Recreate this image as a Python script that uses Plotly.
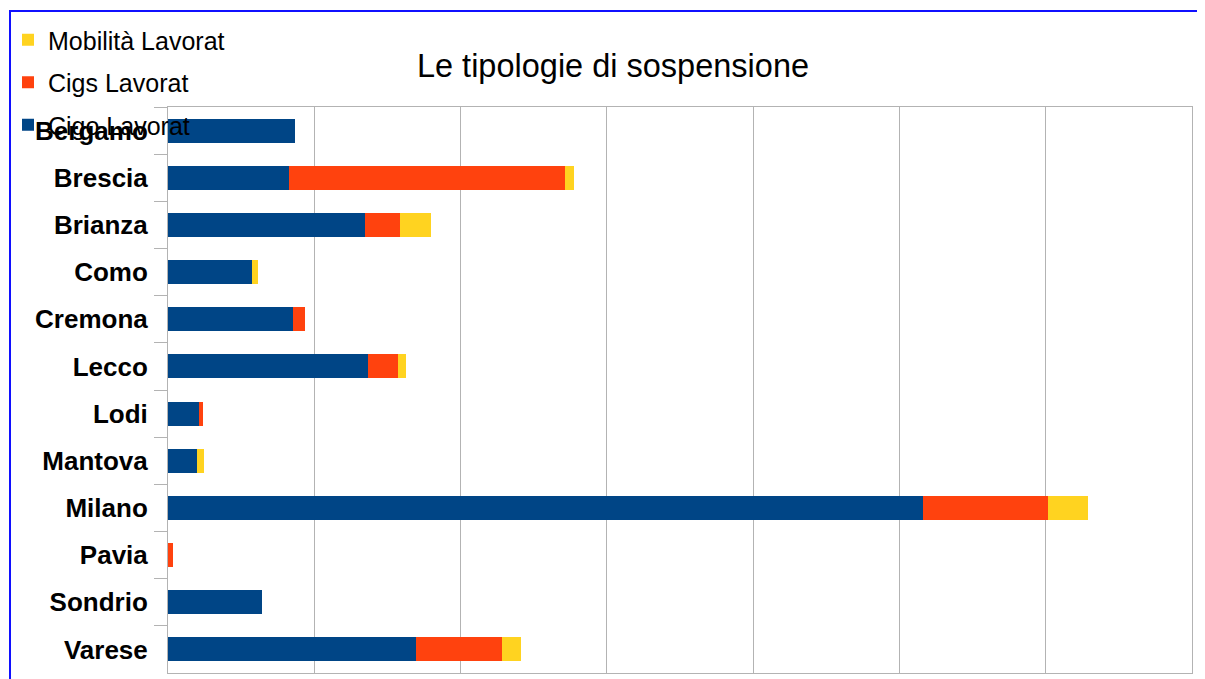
import plotly.graph_objects as go

# dati
province = ['Bergamo', 'Brescia', 'Brianza', 'Como', 'Cremona', 'Lecco',
            'Lodi', 'Mantova', 'Milano', 'Pavia', 'Sondrio', 'Varese']
cigo = [870, 829, 1349, 575, 856, 1370, 212, 199, 5158, 0, 644, 1692]
cigs = [0, 1884, 240, 0, 82, 199, 27, 0, 856, 34, 0, 589]
mobilita = [0, 62, 212, 41, 0, 55, 0, 48, 274, 0, 0, 130]

# la pagina html ha 8px di margine nel body
W, H = 1197, 671
L, R, T, B = 160, 13, 99, 6

fig = go.Figure()
fig.add_trace(go.Bar(y=province, x=cigo, orientation='h', name='Cigo Lavorat',
                     marker=dict(color='#004586', line=dict(width=0)),
                     legendgroup='a', legendrank=3))
fig.add_trace(go.Bar(y=province, x=cigs, orientation='h', name='Cigs Lavorat',
                     marker=dict(color='#ff420e', line=dict(width=0)),
                     legendgroup='b', legendrank=2))
fig.add_trace(go.Bar(y=province, x=mobilita, orientation='h', name='Mobilità Lavorat',
                     marker=dict(color='#ffd320', line=dict(width=0)),
                     legendgroup='c', legendrank=1))

# cornice blu
pw, ph = W - L - R, H - T - B
fig.add_shape(type='rect', xref='paper', yref='paper',
              x0=(2 - L) / pw, x1=(W + 20 - L) / pw,
              y0=-0.2, y1=(H - B - 3) / ph,
              line=dict(color='#1010ff', width=2), layer='above')

fig.update_layout(
    width=W, height=H,
    margin=dict(l=L, r=R, t=T, b=B, autoexpand=False),
    barmode='stack', bargap=0.49,
    plot_bgcolor='white', paper_bgcolor='white',
    font=dict(family='Liberation Sans, Arial, sans-serif', color='black'),
    title=dict(text='Le tipologie di sospensione', x=605 / W, xanchor='center',
               yref='container', y=1 - 58 / H, yanchor='middle',
               font=dict(size=32.5, color='black')),
    legend=dict(xref='container', yref='container', x=0, y=1 - 9 / H,
                xanchor='left', yanchor='top', traceorder='grouped',
                tracegroupgap=7, font=dict(size=25), bgcolor='rgba(0,0,0,0)',
                itemwidth=30),
    xaxis=dict(range=[0, 7000], dtick=1000, showgrid=True, gridcolor='#b3b3b3',
               showticklabels=False, showline=True, linecolor='#b3b3b3', mirror=True,
               zeroline=False, automargin=False),
    yaxis=dict(type='category', autorange='reversed', showgrid=False, automargin=False,
               ticks='outside', tickson='boundaries', ticklen=13, tickcolor='#b3b3b3',
               ticklabelstandoff=14,
               showline=True, linecolor='#b3b3b3', mirror=True,
               tickfont=dict(size=26, family='Liberation Sans, Arial, sans-serif', weight='bold')),
)

fig.write_html('out.html')
